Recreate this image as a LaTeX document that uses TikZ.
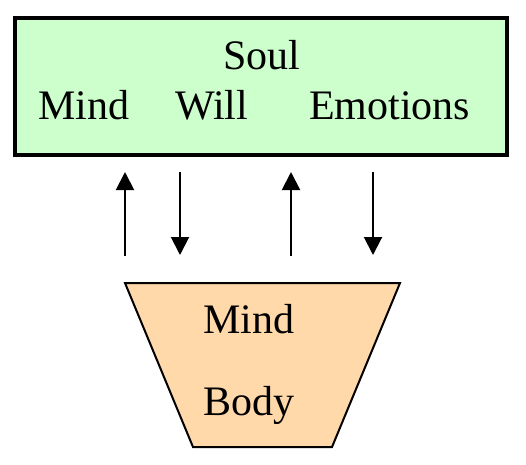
\documentclass[tikz,border=0pt]{standalone}
\usepackage{fontspec}
\setmainfont{Liberation Serif}
\usetikzlibrary{arrows.meta}
\definecolor{soulgreen}{HTML}{CCFFCC}
\definecolor{bodypeach}{HTML}{FFD9AA}
\tikzset{
  lbl/.style={anchor=base west, inner sep=0pt, font=\fontsize{42}{48}\selectfont},
  conn/.style={line width=2pt, -{Triangle[width=18pt,length=18pt]}},
}
\begin{document}
\begin{tikzpicture}[x=1pt,y=-1pt]
\useasboundingbox (0,0) rectangle (526,464);
\draw[line width=3.5pt, fill=soulgreen] (15,18) rectangle (507,155);
\node[lbl] (soul) at (223,69) {Soul};
\node[lbl] (mind1) at (38,119) {Mind};
\node[lbl] (will) at (175,119) {Will};
\node[lbl] (emo) at (309,119) {Emotions};
\draw[line width=2pt, fill=bodypeach, line join=miter] (125,283) -- (400,283) -- (332,447) -- (193,447) -- cycle;
\node[lbl] (mind2) at (203,333) {Mind};
\node[lbl] (body) at (203,415) {Body};
\coordinate (a1s) at (125,256); \coordinate (a1e) at (125,172);
\coordinate (a2s) at (180,172); \coordinate (a2e) at (180,255);
\coordinate (a3s) at (291,256); \coordinate (a3e) at (291,172);
\coordinate (a4s) at (373,172); \coordinate (a4e) at (373,255);
\draw[conn] (a1s) -- (a1e);
\draw[conn] (a2s) -- (a2e);
\draw[conn] (a3s) -- (a3e);
\draw[conn] (a4s) -- (a4e);
\end{tikzpicture}
\end{document}
